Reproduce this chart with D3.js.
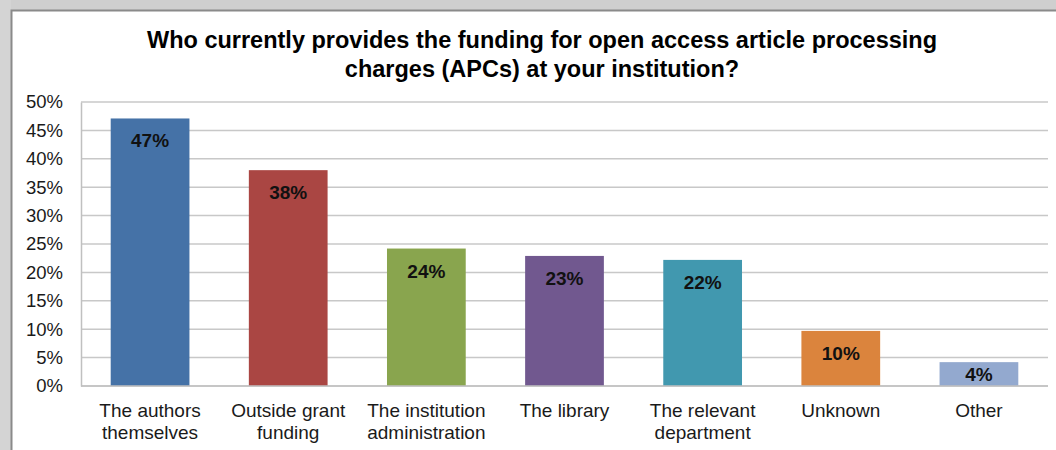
<!DOCTYPE html>
<html>
<head>
<meta charset="utf-8">
<script src="https://cdn.jsdelivr.net/npm/d3@7"></script>
<style>
    body { margin: 0; background: #fff; }
    text { font-family: 'Liberation Sans', Arial, sans-serif; }
</style>
</head>
<body>
<div id="container"></div>
<script>
const width = 1056;
const height = 450;

// values
const categories = [
    ['The authors', 'themselves'],
    ['Outside grant', 'funding'],
    ['The institution', 'administration'],
    ['The library'],
    ['The relevant', 'department'],
    ['Unknown'],
    ['Other']
];
const values = [47.1, 38.0, 24.2, 22.9, 22.2, 9.7, 4.2];
const barLabels = ['47%', '38%', '24%', '23%', '22%', '10%', '4%'];
const colors = ['#4572A7', '#AA4643', '#89A54E', '#71588F', '#4198AF', '#DB843D', '#93A9CF'];
const yTicks = [0, 5, 10, 15, 20, 25, 30, 35, 40, 45, 50];
const titleLines = [
    'Who currently provides the funding for open access article processing',
    'charges (APCs) at your institution?'
];

const plot = { left: 81, right: 1048, top: 102, bottom: 386 };

let svg = d3.select('#container').append('svg')
    .attr('width', width)
    .attr('height', height)
    .attr('viewBox', `0 0 ${width} ${height}`);

// grey frame / shadow around the chart
svg.append('rect').attr('x', 0).attr('y', 0).attr('width', width).attr('height', 10).attr('fill', '#cfcfcf');
svg.append('rect').attr('x', 0).attr('y', 0).attr('width', 11).attr('height', height).attr('fill', '#d4d4d4');
svg.append('rect').attr('x', 11).attr('y', 10).attr('width', width).attr('height', height)
    .attr('fill', '#fff');
svg.append('path')
    .attr('d', `M11.5,${height}V10.5H${width}`)
    .attr('fill', 'none').attr('stroke', '#8a8a8a').attr('stroke-width', 2);

// title
svg.append('g').selectAll('text')
    .data(titleLines)
    .join('text')
    .attr('x', 542)
    .attr('y', (d, i) => 48 + i * 29)
    .attr('text-anchor', 'middle')
    .attr('font-size', 23.5)
    .attr('font-weight', 'bold')
    .attr('fill', '#000')
    .text(d => d);

let x = d3.scaleBand()
    .domain(d3.range(categories.length))
    .range([plot.left, plot.right])
    .paddingInner(0.43)
    .paddingOuter(0.215);

let y = d3.scaleLinear()
    .domain([0, 50])
    .range([plot.bottom, plot.top]);

// gridlines
svg.append('g')
    .attr('stroke', '#c8c8c8')
    .attr('stroke-width', 1.5)
    .selectAll('line')
    .data(yTicks)
    .join('line')
    .attr('x1', plot.left)
    .attr('x2', plot.right)
    .attr('y1', d => y(d))
    .attr('y2', d => y(d));

// y axis
let yAxis = svg.append('g')
    .attr('transform', `translate(${plot.left},0)`)
    .call(d3.axisLeft(y).tickValues(yTicks).tickSize(0).tickPadding(18).tickFormat(d => d + '%'));
yAxis.select('.domain').attr('stroke', '#c0c0c0').attr('stroke-width', 1.5);
yAxis.selectAll('text')
    .attr('font-size', 18.5)
    .attr('fill', '#1a1a1a')
    .attr('font-family', "'Liberation Sans', Arial, sans-serif");

// bars
let bar = svg.append('g')
    .selectAll('g')
    .data(values)
    .join('g');

bar.append('rect')
    .attr('x', (d, i) => x(i))
    .attr('y', d => y(d))
    .attr('width', x.bandwidth())
    .attr('height', d => y(0) - y(d))
    .attr('fill', (d, i) => colors[i]);

// label sits near the top of the bar, centred when the bar is short
bar.append('text')
    .attr('x', (d, i) => x(i) + x.bandwidth() / 2)
    .attr('y', d => Math.min(y(d) + 22, (y(d) + y(0)) / 2) + 7)
    .attr('text-anchor', 'middle')
    .attr('font-size', 19)
    .attr('font-weight', 'bold')
    .attr('fill', '#111')
    .text((d, i) => barLabels[i]);

// x axis line
svg.append('line')
    .attr('x1', plot.left)
    .attr('x2', plot.right)
    .attr('y1', y(0))
    .attr('y2', y(0))
    .attr('stroke', '#c0c0c0')
    .attr('stroke-width', 1.5);

// category labels
let cat = svg.append('g')
    .selectAll('text')
    .data(categories)
    .join('text')
    .attr('x', (d, i) => x(i) + x.bandwidth() / 2)
    .attr('y', 417)
    .attr('text-anchor', 'middle')
    .attr('font-size', 19)
    .attr('fill', '#1a1a1a');

cat.selectAll('tspan')
    .data(d => d)
    .join('tspan')
    .attr('x', function() { return d3.select(this.parentNode).attr('x'); })
    .attr('dy', (d, i) => i === 0 ? 0 : 22)
    .text(d => d);
</script>
</body>
</html>
